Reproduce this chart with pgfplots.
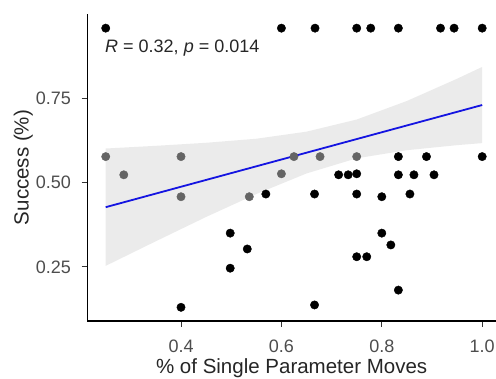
\documentclass[border=0pt]{standalone}
\usepackage{pgfplots}
\pgfplotsset{compat=1.18}
\usepackage{fontspec}
\setmainfont{Liberation Sans}
\definecolor{tickgrey}{RGB}{77,77,77}
\definecolor{bandgrey}{RGB}{235,235,235}
\definecolor{ptgrey}{RGB}{100,100,100}
\definecolor{lineblue}{RGB}{20,20,225}
\begin{document}
\begin{tikzpicture}
\useasboundingbox (-87.3pt,-58pt) rectangle (408.7pt,321pt);
\begin{axis}[
  at={(0pt,0pt)}, anchor=south west,
  scale only axis, width=408.7pt, height=307pt,
  xmin=0.2133, xmax=1.0275, ymin=0.0894, ymax=1.0,
  axis lines=left, axis line style={-, black, line width=1.1pt},
  tick align=outside, major tick length=5.6pt,
  tick style={black!80, line width=1pt},
  xtick={0.4,0.6,0.8,1.0}, xticklabels={0.4,0.6,0.8,1.0},
  ytick={0.25,0.5,0.75}, yticklabels={0.25,0.50,0.75},
  xticklabel style={anchor=base, yshift=-25.7pt, inner sep=0pt, text=tickgrey, font=\fontsize{18}{20}\selectfont},
  yticklabel style={anchor=east, xshift=-10.5pt, inner sep=0pt, text=tickgrey, font=\fontsize{18}{20}\selectfont},
  xlabel={\% of Single Parameter Moves},
  ylabel={Success (\%)},
  xlabel style={at={(axis description cs:0.5,0)}, anchor=base, yshift=-53pt, inner sep=0pt, font=\fontsize{20.5}{22}\selectfont, text=black!85},
  ylabel style={at={(axis description cs:-0.1566,0.5)}, anchor=center, inner sep=0pt, font=\fontsize{20.5}{22}\selectfont, text=black!85},
  clip=false,
]
% confidence band
\addplot[draw=none, fill=bandgrey] coordinates {
(0.25,0.601) (0.35,0.609) (0.45,0.618) (0.55,0.630) (0.65,0.651) (0.75,0.687) (0.85,0.742) (0.95,0.808) (1.0,0.843)
(1.0,0.617) (0.95,0.611) (0.85,0.596) (0.75,0.572) (0.65,0.527) (0.55,0.466) (0.45,0.398) (0.35,0.326) (0.25,0.253)
} -- cycle;
% points seen through the band (grey)
\addplot[only marks, mark=*, mark size=4.2pt, mark options={fill=ptgrey, draw=ptgrey}] coordinates {
(0.25,0.577) (0.4,0.577) (0.625,0.577) (0.677,0.577) (0.75,0.577)
(0.286,0.523) (0.6,0.526)
(0.4,0.458) (0.536,0.458)
};
% points outside the band (black)
\addplot[only marks, mark=*, mark size=4.2pt, mark options={fill=black, draw=black}] coordinates {
(0.25,0.958) (0.6,0.958) (0.667,0.958) (0.75,0.958) (0.778,0.958) (0.833,0.958) (0.917,0.958) (0.944,0.958) (1.0,0.958)
(0.833,0.577) (0.889,0.577) (1.0,0.577)
(0.714,0.523) (0.733,0.523) (0.75,0.526) (0.833,0.523) (0.864,0.523) (0.904,0.523)
(0.569,0.466) (0.666,0.466) (0.75,0.466) (0.8,0.458) (0.856,0.466)
(0.498,0.350) (0.532,0.303) (0.498,0.246) (0.4,0.130) (0.8,0.350) (0.818,0.315) (0.75,0.280) (0.770,0.280) (0.833,0.181) (0.666,0.137)
};
% regression line
\addplot[lineblue, line width=1.8pt] coordinates {(0.25,0.427) (1.0,0.730)};
\node[anchor=base west, inner sep=0pt, font=\fontsize{18}{20}\selectfont, text=black!85] at (axis cs:0.2486,0.885) {\textit{R} = 0.32, \textit{p} = 0.014};
\end{axis}
\end{tikzpicture}
\end{document}
